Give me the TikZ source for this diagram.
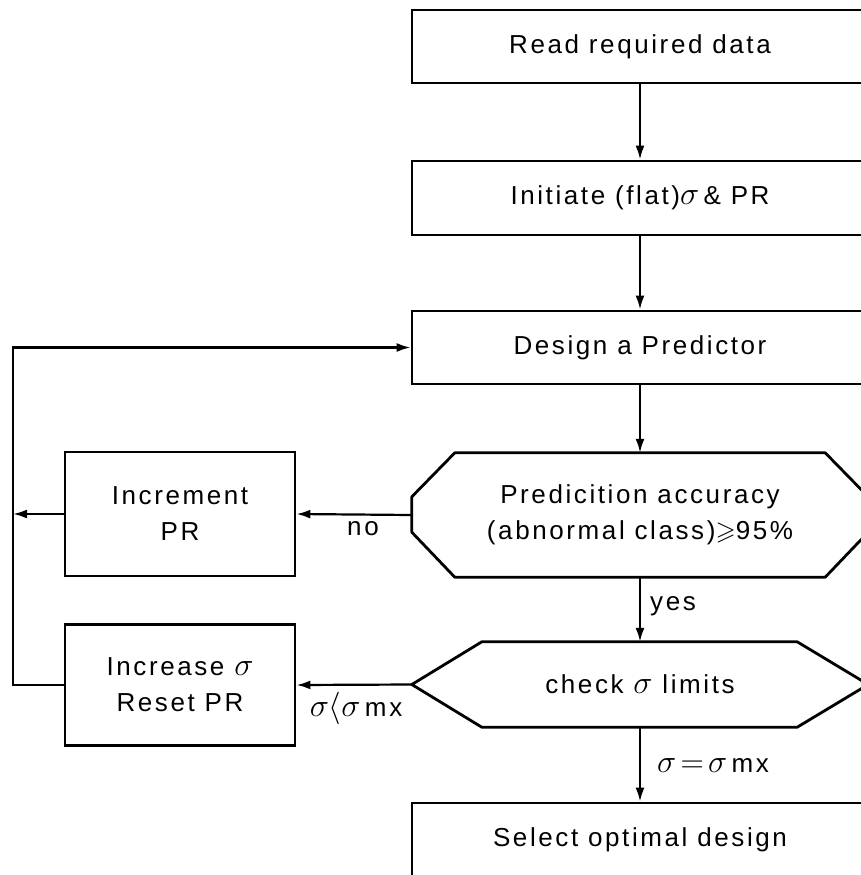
\documentclass[tikz,border=0pt]{standalone}
\usepackage{fontspec}
\usepackage{amssymb}
\usepackage{graphicx}
\setmainfont{Liberation Sans}[LetterSpace=10]
\usetikzlibrary{arrows.meta}
\newcommand{\sig}{\scalebox{1.3}{$\sigma$}}
\begin{document}
\begin{tikzpicture}[x=1pt,y=-1pt,
  every node/.style={font=\fontsize{26}{36}\selectfont},
  procbox/.style={draw,line width=2.8pt,minimum width=456pt,minimum height=73pt,inner sep=0pt},
  sidebox/.style={draw,line width=2.8pt,minimum width=230pt,inner sep=0pt,align=center},
  decbox/.style={minimum width=456pt,inner sep=0pt,align=center},
  conn/.style={line width=2.2pt,-{Latex[length=14pt,width=9pt]}},
  lbl/.style={inner sep=0pt}]
\useasboundingbox (0,0) rectangle (861,875);
\clip (0,0) rectangle (861,875);
% main column
\node[procbox] (read) at (640,46.5) {Read required data};
\node[procbox,minimum height=74pt] (init) at (640,198) {Initiate (flat)\sig\,\& PR};
\node[procbox] (design) at (640,347.5) {Design a Predictor};
\node[decbox,minimum height=124pt] (acc) at (640,515) {Predicition accuracy\\(abnormal class)$\geqslant$95\%};
\node[decbox,minimum height=85pt] (chk) at (640,684.5) {check \sig\ limits};
\node[procbox] (sel) at (640,839.5) {Select optimal design};
% octagon
\draw[line width=2.8pt,line join=round]
  ([xshift=43pt]acc.north west) -- ([xshift=-43pt]acc.north east)
  -- ([yshift=-44pt]acc.north east) -- ([yshift=45pt]acc.south east)
  -- ([xshift=-43pt]acc.south east) -- ([xshift=43pt]acc.south west)
  -- ([yshift=45pt]acc.south west) -- ([yshift=-44pt]acc.north west) -- cycle;
% hexagon
\draw[line width=2.8pt,line join=round]
  (chk.west) -- ([xshift=70pt]chk.north west) -- ([xshift=-71pt]chk.north east)
  -- (chk.east) -- ([xshift=-71pt]chk.south east) -- ([xshift=70pt]chk.south west) -- cycle;
% side boxes
\node[sidebox,minimum height=124pt] (incr) at (180,514) {Increment\\PR};
\node[sidebox,minimum height=121pt] (incs) at (180,685) {Increase \sig\\Reset PR};
% loop line
\coordinate (loopTop) at (13,347.5);
\coordinate (loopBot) at (13,685);
% connectors
\draw[conn] (read) -- (init);
\draw[conn] (init) -- (design);
\draw[conn] (design) -- (acc);
\draw[conn] (acc.south) -- (chk.north);
\draw[conn] (chk.south) -- (sel);
\draw[conn] (acc.west) -- (incr.east);
\draw[conn] (chk.west) -- (incs.east);
\draw[conn] (incr.west) -- (incr.west -| loopBot);
\draw[conn] (incs.west) -- (loopBot) -- (loopTop) -- (design.west);
% labels
\node[lbl] (lno) at (363,529) {no};
\node[lbl] (lyes) at (673,606) {yes};
\node[lbl] (llt) at (356,708) {\sig\scalebox{1.3}{$\langle$}\sig\,mx};
\node[lbl] (leq) at (713,765) {\sig\,\scalebox{1.3}{$=$}\,\sig\,mx};
\end{tikzpicture}
\end{document}
